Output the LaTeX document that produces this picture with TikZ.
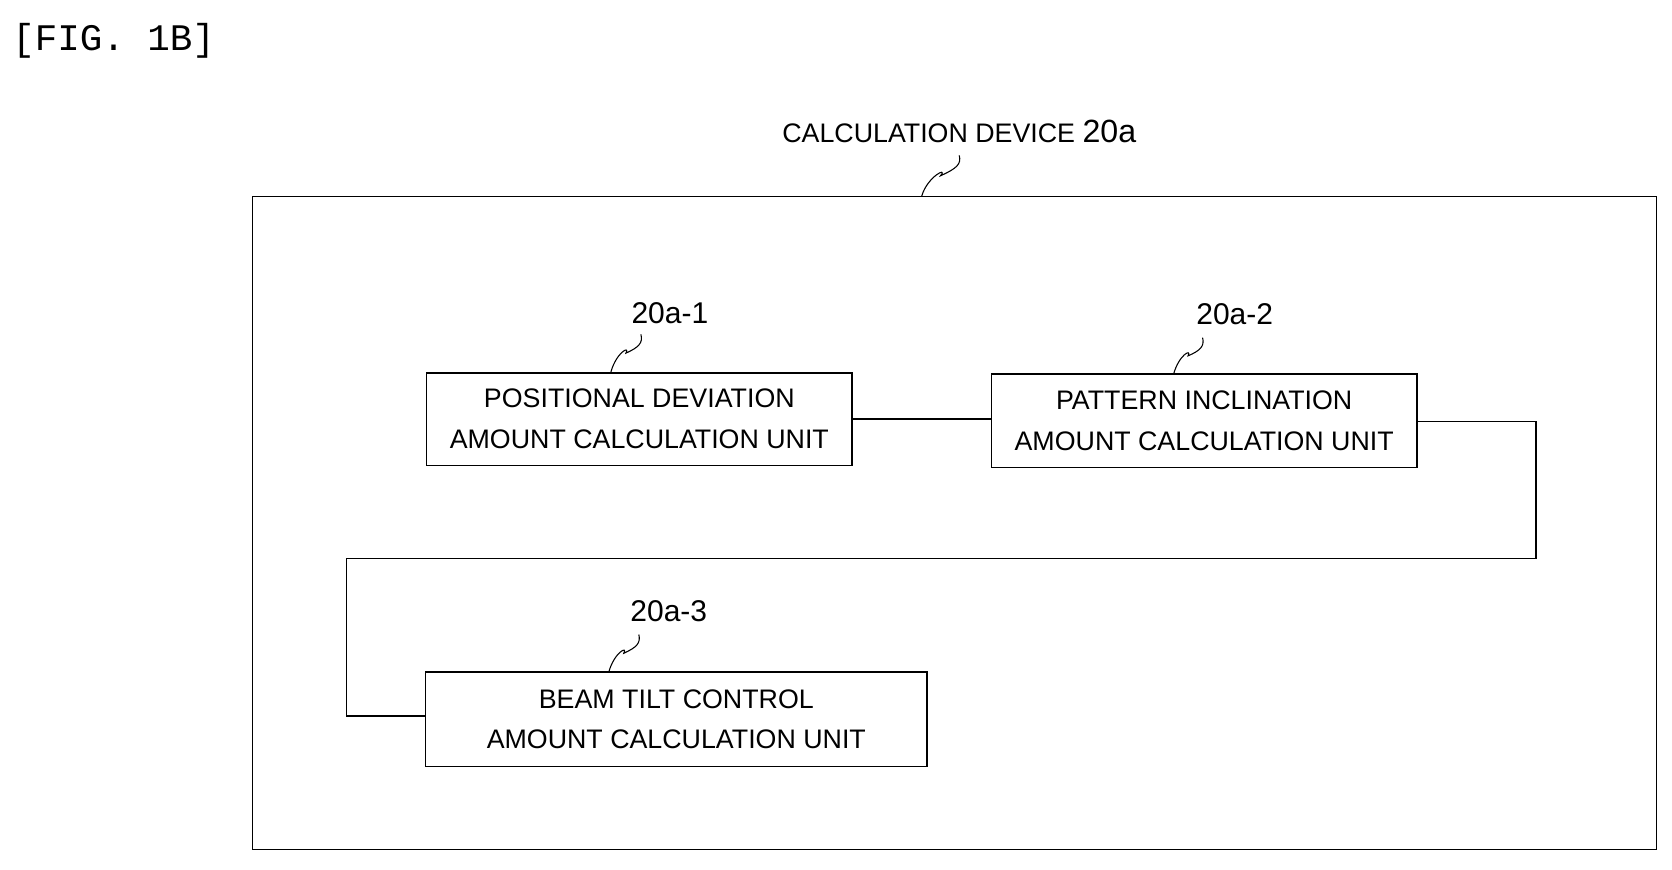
\documentclass[tikz,border=0pt]{standalone}
\usepackage{fontspec}
\usetikzlibrary{calc}
\setmainfont{Liberation Sans}
\newfontfamily\monof{Liberation Mono}
\begin{document}
\begin{tikzpicture}[x=1pt,y=-1pt,
 unit/.style={draw,line width=1.2pt,align=center,inner sep=0pt,font=\fontsize{25}{38}\selectfont},
 lbl/.style={font=\fontsize{28}{30}\selectfont},
 ln/.style={line width=1.2pt}]
\useasboundingbox (0,0) rectangle (1560,811);
\node[anchor=west,font=\monof\fontsize{35}{36}\selectfont] (fig) at (8,38) {[FIG. 1B]};
\node[draw,ln,minimum width=1310pt,minimum height=609pt,anchor=north west] (dev) at (235,183) {};
\node[lbl] (devl) at (895,123) {\fontsize{25}{30}\selectfont CALCULATION DEVICE \fontsize{30}{30}\selectfont 20a};
\node[unit,minimum width=397pt,minimum height=86pt] (b1) at (596.5,391) {POSITIONAL DEVIATION\\AMOUNT CALCULATION UNIT};
\node[unit,minimum width=397pt,minimum height=87pt] (b2) at (1123.5,392.5) {PATTERN INCLINATION\\AMOUNT CALCULATION UNIT};
\node[unit,minimum width=468pt,minimum height=88pt] (b3) at (631,671) {BEAM TILT CONTROL\\AMOUNT CALCULATION UNIT};
\node[lbl] (l1) at (625,292) {20a-1};
\node[lbl] (l2) at (1152,293) {20a-2};
\node[lbl] (l3) at (624,570) {20a-3};
\coordinate (s0) at (860,183); \coordinate (t0) at (895,145);
\coordinate (s1) at (570,347); \coordinate (t1) at (598,312);
\coordinate (s2) at (1095,349); \coordinate (t2) at (1122,315);
\coordinate (s3) at (568,627); \coordinate (t3) at (596,592);
\foreach \i in {0,1,2,3}{
 \draw[line width=1pt] (s\i) .. controls ($(s\i)+(5,-18)$) and ($(t\i)+(-10,10)$) .. ($(s\i)!0.5!(t\i)$) .. controls ($(t\i)+(-2,12)$) and ($(t\i)+(2,8)$) .. (t\i);}
\draw[ln] (b1.east) -- (b1.east -| b2.west);
\coordinate (c1) at (1433,393); \coordinate (c2) at (1433,521); \coordinate (c3) at (323,521); \coordinate (c4) at (323,668);
\draw[ln] (b2.east |- c1) -- (c1) -- (c2) -- (c3) -- (c4) -- (b3.west |- c4);
\end{tikzpicture}
\end{document}
